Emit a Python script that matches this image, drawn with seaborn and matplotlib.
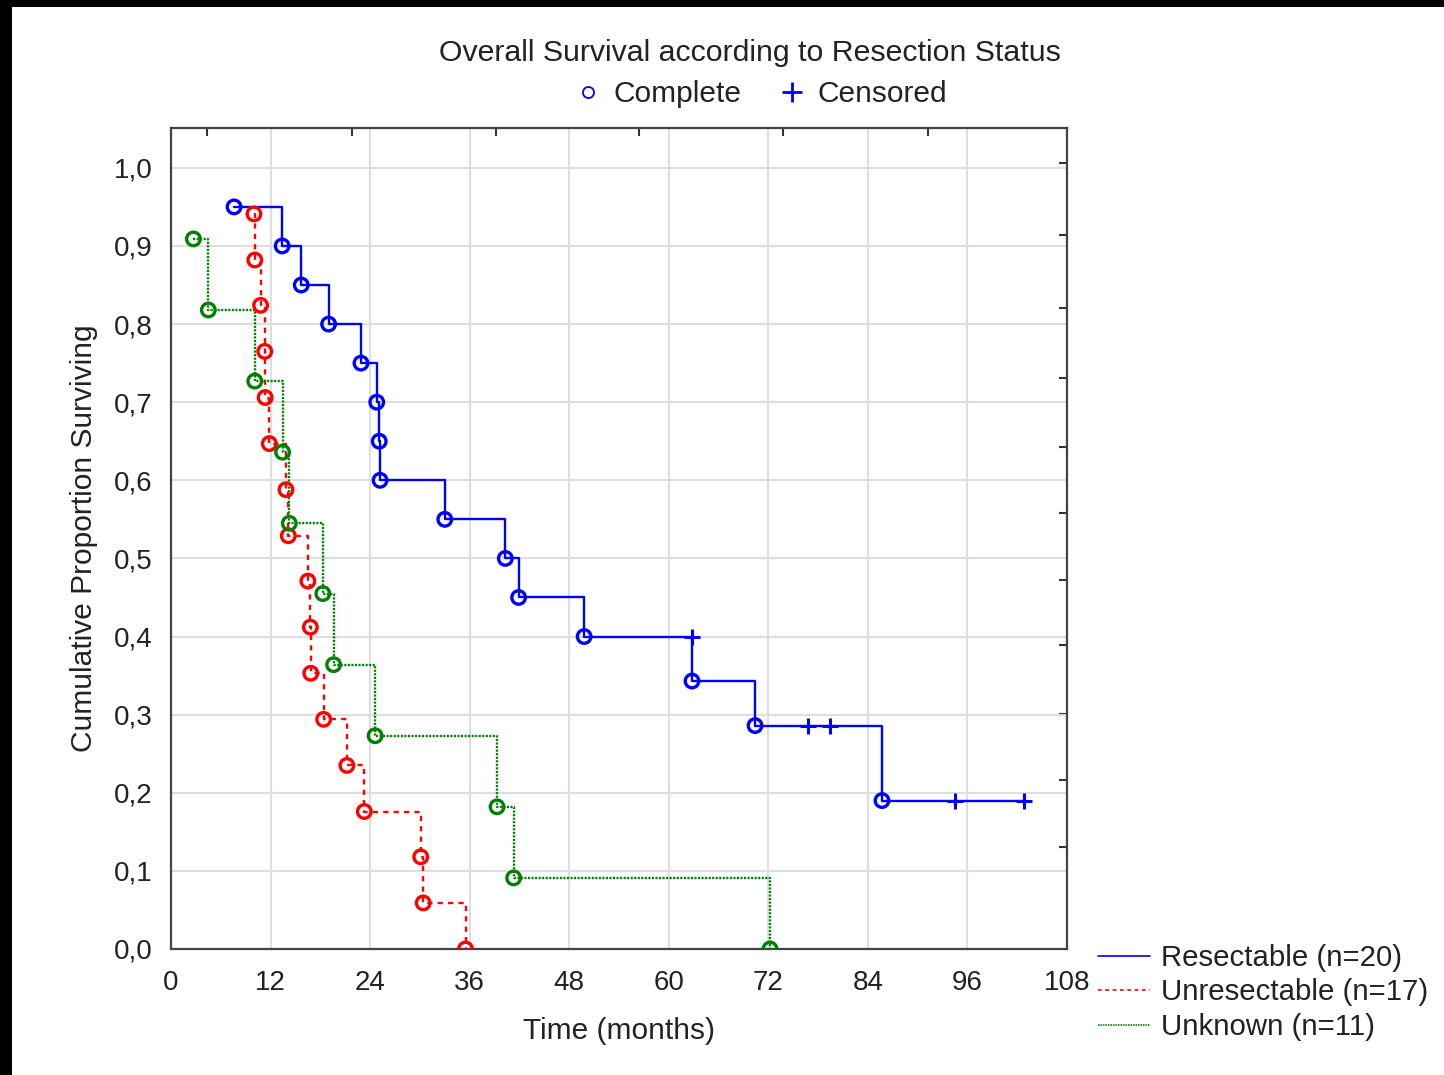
import numpy as np
import pandas as pd
import matplotlib
matplotlib.use("Agg")
import matplotlib.pyplot as plt
from matplotlib.lines import Line2D
from matplotlib.patches import Rectangle
import seaborn as sns

# ---------------- data ----------------
# Resectable (n=20)
res_time = [7.6, 13.4, 15.7, 19.0, 22.9, 24.8, 25.1, 25.2, 33.0, 40.3, 41.9, 49.8,
            62.8, 62.8, 70.4, 76.8, 79.4, 85.7, 94.5, 102.8]
res_surv = [0.95, 0.90, 0.85, 0.80, 0.75, 0.70, 0.65, 0.60, 0.55, 0.50, 0.45, 0.40,
            0.40, 0.343, 0.286, 0.286, 0.286, 0.19, 0.19, 0.19]
res_cens = [0, 0, 0, 0, 0, 0, 0, 0, 0, 0, 0, 0,
            1, 0, 0, 1, 1, 0, 1, 1]

# Unresectable (n=17)
unr_time = [10.0, 10.1, 10.8, 11.3, 11.35, 11.85, 13.86, 14.14, 16.5, 16.8, 16.85,
            18.4, 21.2, 23.3, 30.1, 30.4, 35.5]
unr_surv = [0.941, 0.882, 0.824, 0.765, 0.706, 0.647, 0.588, 0.529, 0.471, 0.412,
            0.353, 0.294, 0.235, 0.176, 0.118, 0.059, 0.0]
unr_cens = [0] * 17

# Unknown (n=11)
unk_time = [2.7, 4.5, 10.1, 13.45, 14.26, 18.3, 19.6, 24.6, 39.3, 41.3, 72.2]
unk_surv = [0.909, 0.818, 0.727, 0.636, 0.545, 0.455, 0.364, 0.273, 0.182, 0.091, 0.0]
unk_cens = [0] * 11

groups = ["Resectable (n=20)", "Unresectable (n=17)", "Unknown (n=11)"]
colors = {"Resectable (n=20)": "#0000ff",
          "Unresectable (n=17)": "#ff0000",
          "Unknown (n=11)": "#008000"}

x_ticks = [0, 12, 24, 36, 48, 60, 72, 84, 96, 108]
y_ticks = [0.0, 0.1, 0.2, 0.3, 0.4, 0.5, 0.6, 0.7, 0.8, 0.9, 1.0]
y_ticklabels = ["0,0", "0,1", "0,2", "0,3", "0,4", "0,5", "0,6", "0,7", "0,8", "0,9", "1,0"]
top_ticks = [4.36, 21.76, 39.17, 56.45, 73.78, 91.2]
right_ticks = [1.006, 0.914, 0.821, 0.731, 0.643, 0.558, 0.472, 0.389, 0.301, 0.216, 0.131]

frames = []
for g, t, s, c in [(groups[0], res_time, res_surv, res_cens),
                   (groups[1], unr_time, unr_surv, unr_cens),
                   (groups[2], unk_time, unk_surv, unk_cens)]:
    frames.append(pd.DataFrame({"time": t, "surv": s, "cens": c, "group": g}))
df = pd.concat(frames, ignore_index=True)

# ---------------- figure ----------------
sns.set_theme(style="white")
plt.rcParams["font.family"] = ["Liberation Sans", "DejaVu Sans"]

W, H = 1444, 1075
fig = plt.figure(figsize=(W / 100, H / 100), dpi=100)
fig.patch.set_facecolor("white")
ax = fig.add_axes([171 / W, 1 - 949 / H, (1067 - 171) / W, (949 - 128) / H])

line_kw = {
    groups[0]: dict(linestyle="-", linewidth=1.7),
    groups[1]: dict(linestyle=(0, (2.2, 2.2)), linewidth=1.7),
    groups[2]: dict(linestyle=(0, (0.9, 0.6)), linewidth=1.7),
}

for g in groups:
    sub = df[df["group"] == g]
    sns.lineplot(data=sub, x="time", y="surv", ax=ax, color=colors[g],
                 estimator=None, sort=False, drawstyle="steps-post",
                 legend=False, zorder=3, **line_kw[g])
    ev = sub[sub["cens"] == 0]
    ce = sub[sub["cens"] == 1]
    sns.scatterplot(data=ev, x="time", y="surv", ax=ax, marker="o",
                    s=95, facecolor="none", edgecolor=colors[g],
                    linewidth=2.4, legend=False, zorder=4)
    if len(ce):
        sns.scatterplot(data=ce, x="time", y="surv", ax=ax, marker="+",
                        s=125, color=colors[g], linewidth=2.2,
                        legend=False, zorder=4)

ax.set_xlim(0, 108)
ax.set_ylim(0, 1.051)
ax.set_xticks(x_ticks)
ax.set_xticks([6, 18, 30, 42, 54, 66, 78, 90, 102], minor=True)
ax.set_yticks(y_ticks)
ax.set_yticklabels(y_ticklabels)
ax.tick_params(axis="both", which="both", direction="in", colors="#333333",
               labelcolor="#222222", labelsize=20, length=5, width=1.5)
ax.tick_params(axis="x", pad=15)
ax.tick_params(axis="y", pad=13)
ax.grid(True, which="major", color="#dedede", linewidth=1.5)
ax.set_axisbelow(True)
for sp in ax.spines.values():
    sp.set_color("#444444")
    sp.set_linewidth(1.6)

ax.set_xlabel("Time (months)", fontsize=21.5, color="#222222")
ax.set_ylabel("Cumulative Proportion Surviving", fontsize=21.5, color="#222222")
ax.xaxis.set_label_coords(0.5, -0.083)
ax.yaxis.set_label_coords(-0.082, 0.5)

# stray ticks on top/right spines
secx = ax.secondary_xaxis("top")
secx.set_xticks(top_ticks)
secx.set_xticklabels([])
secx.tick_params(direction="in", length=6, width=1.5, colors="#333333")
secx.spines["top"].set_visible(False)
secy = ax.secondary_yaxis("right")
secy.set_yticks(right_ticks)
secy.set_yticklabels([])
secy.tick_params(direction="in", length=6, width=1.5, colors="#333333")
secy.spines["right"].set_visible(False)

# title and marker key
fig.text(750 / W, 1 - 53 / H, "Overall Survival according to Resection Status",
         ha="center", va="center", fontsize=21.8, color="#222222")
key_handles = [
    Line2D([], [], linestyle="none", marker="o", markersize=8, markerfacecolor="none",
           markeredgecolor="#0000ff", markeredgewidth=1.3),
    Line2D([], [], linestyle="none", marker="+", markersize=14,
           markeredgecolor="#0000ff", markeredgewidth=2.0),
]
fig.legend(key_handles, ["Complete", "Censored"], ncol=2, frameon=False,
           loc="center", bbox_to_anchor=(760 / W, 1 - 94 / H), fontsize=21.5,
           handlelength=1.0, handletextpad=0.35, columnspacing=1.2,
           labelcolor="#222222")

# line legend
leg_handles = [Line2D([], [], color=colors[g], **{k: v for k, v in line_kw[g].items() if k != "linewidth"},
                      linewidth=1.2) for g in groups]
fig.legend(leg_handles, groups, loc="upper left", frameon=False,
           bbox_to_anchor=(1098 / W, 1 - 944 / H), fontsize=21.2,
           handlelength=1.75, handletextpad=0.4, labelspacing=0.22,
           borderpad=0, borderaxespad=0, labelcolor="#222222")

# black border strips of the original image
fig.patches.append(Rectangle((0, 1 - 7 / H), 1, 7 / H, transform=fig.transFigure,
                             facecolor="black", edgecolor="none", zorder=10))
fig.patches.append(Rectangle((0, 0), 12 / W, 1, transform=fig.transFigure,
                             facecolor="black", edgecolor="none", zorder=10))

fig.savefig("out.png", dpi=100)
